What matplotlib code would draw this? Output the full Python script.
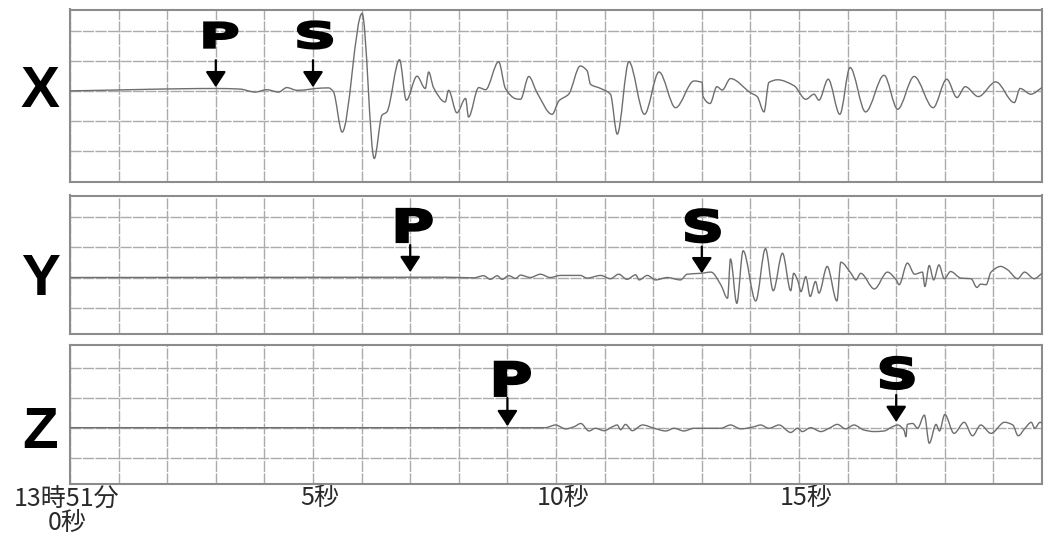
import matplotlib
matplotlib.use("Agg")
import matplotlib.pyplot as plt
from matplotlib.path import Path
from matplotlib.textpath import TextPath
from matplotlib.patches import PathPatch
from matplotlib.font_manager import FontProperties
from matplotlib.transforms import Affine2D, ScaledTranslation, blended_transform_factory

# --- data (time in s, amplitude in grid units) ---
x_t = [0, 3.02, 3.50, 3.81, 4.05, 4.29, 4.46, 4.67, 4.87, 5.05, 5.32, 5.42,
       5.60, 6.01, 6.26, 6.42, 6.52, 6.78, 6.92, 7.14, 7.31, 7.38, 7.48, 7.72,
       7.79, 7.96, 8.14, 8.20, 8.41, 8.55, 8.82, 8.96, 9.17, 9.27, 9.44, 9.61,
       9.92, 10.06, 10.26, 10.50, 10.64, 10.71, 10.92, 11.12, 11.26, 11.50,
       11.82, 12.12, 12.46, 12.84, 13.01, 13.02, 13.17, 13.31, 13.42, 13.59,
       14.00, 14.14, 14.28, 14.38, 14.56, 14.90, 15.14, 15.31, 15.41, 15.60,
       15.84, 16.05, 16.37, 16.75, 17.03, 17.37, 17.76, 18.04, 18.25, 18.42,
       18.69, 19.05, 19.43, 19.55, 19.77, 20.0]
x_amp = [0.0, 0.08, 0.06, -0.04, 0.04, -0.04, 0.11, 0.02, 0.04, 0.08, 0.10, -0.03,
         -1.37, 2.58, -2.25, -0.81, -0.70, 1.04, -0.31, 0.49, 0.08, 0.63, 0.11, -0.37,
         0.02, -0.73, -0.25, -0.87, 0.11, 0.04, 0.97, 0.08, -0.26, -0.28, 0.48, -0.06,
         -0.78, -0.33, -0.11, 0.83, 0.67, 0.22, 0.08, -0.11, -1.44, 0.97,
         -0.78, 0.63, -0.56, 0.33, 0.28, -0.17, -0.42, 0.14, 0.03, 0.41,
         -0.06, -0.19, -0.70, 0.28, 0.37, 0.17, -0.28, -0.11, -0.31, 0.39,
         -0.78, 0.78, -0.70, 0.52, -0.61, 0.48, -0.56, 0.39, -0.22, 0.14,
         -0.19, 0.30, -0.39, 0.08, -0.11, 0.11]

y_t = [0, 7.76, 8.31, 8.51, 8.65, 8.79, 8.89, 9.03, 9.17, 9.27, 9.47, 9.68,
       9.88, 10.09, 10.50, 10.64, 10.92, 11.12, 11.29, 11.46, 11.64, 11.71,
       11.88, 12.05, 12.29, 12.56, 12.70, 12.98, 13.19, 13.39, 13.53, 13.59,
       13.72, 13.85, 14.11, 14.31, 14.47, 14.66, 14.83, 14.89, 14.98, 15.04,
       15.14, 15.23, 15.34, 15.41, 15.58, 15.78, 15.86, 16.07, 16.17, 16.27,
       16.55, 16.82, 17.00, 17.06, 17.23, 17.38, 17.54, 17.59, 17.68, 17.77,
       17.88, 17.99, 18.12, 18.33, 18.54, 18.66, 18.74, 18.85, 18.95, 19.15,
       19.29, 19.50, 19.64, 19.84, 20.0]
y_amp = [0.0, 0.01, -0.01, 0.06, -0.06, 0.06, -0.06, 0.06, -0.03, 0.08, 0.0, 0.11,
         0.0, 0.07, 0.07, -0.02, 0.07, -0.04, 0.11, -0.06, 0.09, -0.08,
         0.07, -0.08, 0.0, -0.08, 0.11, 0.14, 0.18, -0.24, -0.69, 0.62,
         -0.86, 0.89, -0.78, 0.96, -0.44, 0.81, -0.44, 0.14, -0.13, -0.47,
         0.03, -0.63, -0.13, -0.52, 0.37, -0.78, 0.51, 0.14, -0.08, 0.14,
         -0.38, 0.18, -0.08, -0.24, 0.48, 0.11, 0.18, -0.30, 0.40, -0.08,
         0.42, -0.04, 0.20, -0.02, -0.04, -0.33, -0.22, -0.24, 0.18, 0.37,
         0.26, -0.04, 0.18, -0.04, 0.14]

z_t = [0, 9.78, 9.99, 10.20, 10.37, 10.51, 10.68, 10.81, 10.99, 11.16, 11.26,
       11.33, 11.43, 11.57, 11.78, 12.02, 12.26, 12.43, 12.63, 12.84, 13.39,
       13.59, 13.80, 14.07, 14.21, 14.38, 14.59, 14.83, 14.97, 15.07, 15.24,
       15.45, 15.62, 15.79, 15.96, 16.13, 16.34, 16.55, 16.75, 16.92, 17.03,
       17.16, 17.20, 17.23, 17.34, 17.44, 17.58, 17.68, 17.82, 17.89, 18.00,
       18.19, 18.40, 18.57, 18.74, 18.95, 19.23, 19.40, 19.51, 19.65, 19.78,
       19.85, 19.96, 20.0]
z_amp = [0.0, 0.0, 0.09, -0.04, 0.03, 0.14, -0.11, -0.02, -0.10, 0.03, 0.09,
         -0.07, 0.11, -0.10, 0.09, -0.02, -0.11, -0.02, -0.11, -0.02, -0.02,
         0.09, -0.04, 0.03, 0.09, -0.02, 0.09, -0.16, -0.02, -0.13, 0.0,
         -0.13, -0.02, 0.11, -0.04, 0.09, -0.08, -0.13, -0.11, 0.03, 0.09,
         -0.08, -0.30, 0.11, 0.14, -0.02, 0.42, -0.52, 0.11, -0.11, 0.44,
         -0.19, 0.18, -0.27, 0.09, -0.19, 0.18, 0.09, -0.27, -0.02, 0.18,
         -0.02, 0.18, 0.15]

x_picks = [("P", 3.0), ("S", 5.0)]
y_picks = [("P", 7.0), ("S", 13.0)]
z_picks = [("P", 9.0), ("S", 17.0)]

tick_pos = [0, 5, 10, 15]
tick_labels = ["13時51分\n0秒", "5秒", "10秒", "15秒"]

GRID = "#ababab"
TRACE = "#6e6e6e"

fig = plt.figure(figsize=(10.44, 5.37), dpi=100)
W, H = 1044, 537


def make_axes(top_px, bot_px, ylim):
    ax = fig.add_axes([70 / W, (H - bot_px) / H, 972 / W, (bot_px - top_px) / H])
    ax.set_xlim(0, 20)
    ax.set_ylim(*ylim)
    ax.set_xticks(range(0, 21))
    ax.set_yticks([v for v in (-2, -1, 0, 1, 2) if ylim[0] < v < ylim[1]])
    ax.grid(True, color=GRID, lw=1.0, ls=(0, (8, 1)))
    ax.tick_params(length=0, labelbottom=False, labelleft=False)
    for s in ax.spines.values():
        s.set_color("#8c8c8c")
        s.set_linewidth(1.5)
    return ax


# pen trace drawn as a smooth curve through the read points
def trace_path(t, a):
    n = len(t)
    sec = [(a[i + 1] - a[i]) / (t[i + 1] - t[i]) for i in range(n - 1)]
    m = [sec[0]] + [0.0] * (n - 2) + [sec[-1]]
    for i in range(1, n - 1):
        if sec[i - 1] * sec[i] > 0:
            m[i] = 2 / (1 / sec[i - 1] + 1 / sec[i])
    verts = [(t[0], a[0])]
    codes = [Path.MOVETO]
    for i in range(n - 1):
        h = t[i + 1] - t[i]
        verts += [(t[i] + h / 3, a[i] + m[i] * h / 3),
                  (t[i + 1] - h / 3, a[i + 1] - m[i + 1] * h / 3),
                  (t[i + 1], a[i + 1])]
        codes += [Path.CURVE4] * 3
    return Path(verts, codes)


# pick marker: arrow tip / arrow top / letter bottom in grid units, letter box in px
def draw_pick(ax, label, t, tip, top, bottom, w, h, dx):
    ax.annotate("", xy=(t, tip), xytext=(t, top),
                arrowprops=dict(arrowstyle="-|>,head_length=0.95,head_width=0.62",
                                color="black", lw=1.6, shrinkA=0, shrinkB=0,
                                mutation_scale=10))
    path = TextPath((0, 0), label, size=100,
                    prop=FontProperties(family="DejaVu Sans", weight="bold"))
    ext = path.get_extents()
    tr = (Affine2D().translate(-(ext.x0 + ext.x1) / 2, -ext.y0)
          .scale((w - 2) / ext.width, (h - 2) / ext.height)
          .translate(dx + 1, 1)
          + ScaledTranslation(t, bottom, ax.transData))
    ax.add_patch(PathPatch(path, transform=tr, fc="black", ec="black",
                           lw=1.6, clip_on=False, zorder=5))


panels = [
    ("X", x_t, x_amp, x_picks, 9.5, 182.5, (-3.05, 2.71), -0.55,
     {"P": (0.12, 1.02, 1.41, 35, 27, 4), "S": (0.12, 1.02, 1.38, 36, 29, 1)}),
    ("Y", y_t, y_amp, y_picks, 195.5, 334.3, (-1.89, 2.73), -0.58,
     {"P": (0.18, 1.08, 1.15, 37, 35, 3), "S": (0.14, 1.03, 1.14, 36, 35, 0)}),
    ("Z", z_t, z_amp, z_picks, 345, 484, (-1.88, 2.76), -0.68,
     {"P": (0.05, 0.99, 1.03, 37, 36, 4), "S": (0.19, 1.09, 1.26, 35, 34, 0)}),
]

for name, t, amp, picks, top_px, bot_px, ylim, lab_y, pick_style in panels:
    ax = make_axes(top_px, bot_px, ylim)
    ax.add_patch(PathPatch(trace_path(t, amp), fill=False, ec=TRACE, lw=1.0,
                           zorder=3, joinstyle="round"))
    for lab, pt in picks:
        draw_pick(ax, lab, pt, *pick_style[lab])
    ax.text(40 / W, lab_y, name, transform=blended_transform_factory(fig.transFigure, ax.transData),
            ha="center", va="baseline", fontsize=42, fontweight="bold",
            family="Liberation Sans", color="black")

# time labels under the last panel
labels = ["" for _ in range(21)]
for p, s in zip(tick_pos, tick_labels):
    labels[p] = s
ax.set_xticklabels(labels)
ax.tick_params(labelbottom=True, pad=1, labelsize=18, labelcolor="#2a2a2a")
for i, lbl in enumerate(ax.get_xticklabels()):
    lbl.set_family(["Noto Sans CJK JP", "DejaVu Sans"])
    lbl.set_linespacing(0.93)
    if i in tick_pos[1:]:
        lbl.set_transform(lbl.get_transform() + ScaledTranslation(7 / 100, 0, fig.dpi_scale_trans))
    elif i == 0:
        lbl.set_transform(lbl.get_transform() + ScaledTranslation(-3 / 100, 0, fig.dpi_scale_trans))

fig.savefig("out.png", dpi=100)
